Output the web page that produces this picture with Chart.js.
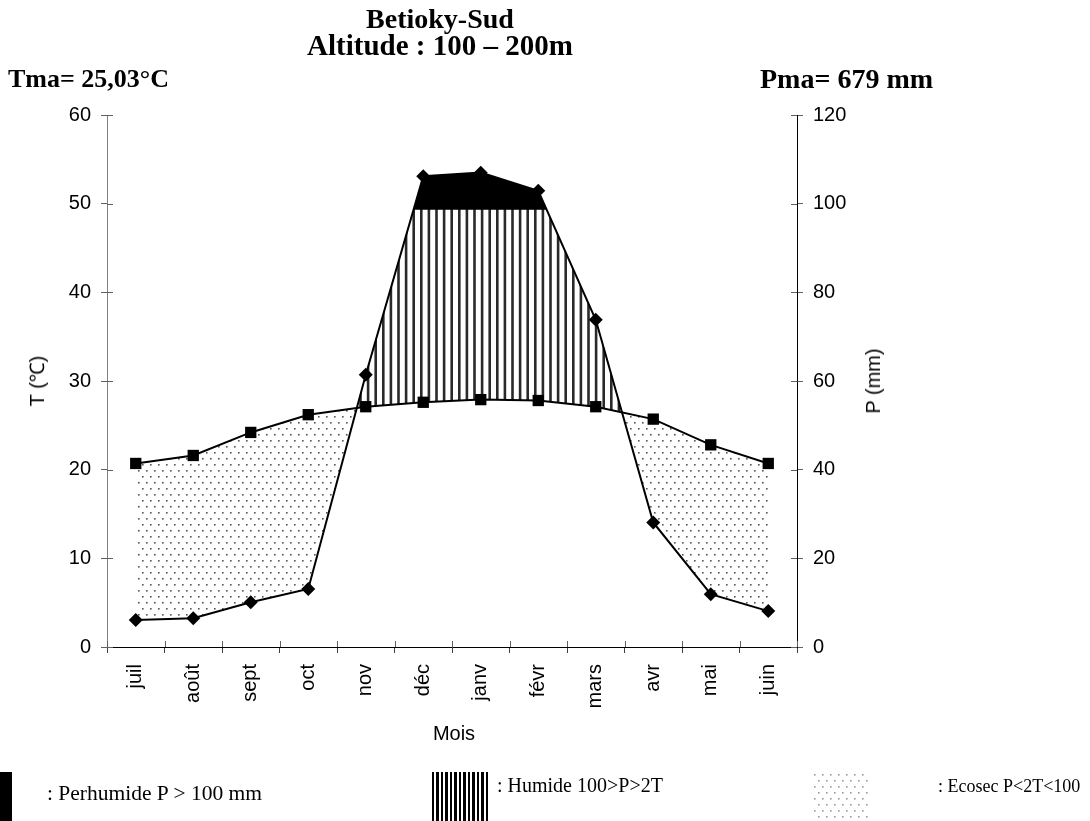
<!DOCTYPE html>
<html>
<head>
<meta charset="utf-8">
<script src="https://cdn.jsdelivr.net/npm/chart.js@4"></script>
<style>
  html, body { margin: 0; padding: 0; background: #fff; }
  #wrap { position: relative; width: 1090px; height: 821px; overflow: hidden; }
  #wrap canvas { position: absolute; left: 0; top: 0; }
  .t { position: absolute; white-space: nowrap; color: #000; }
  .serif { font-family: "Liberation Serif", "Times New Roman", serif; }
  .bold { font-weight: bold; font-size: 28px; line-height: 28px; }
  .sans { font-family: "Liberation Sans", Arial, sans-serif; font-size: 20px; line-height: 20px; }
  .leg { font-size: 20px; line-height: 20px; }
  .box { position: absolute; top: 772px; height: 49px; }
</style>
</head>
<body>
<div id="wrap">
  <canvas id="chart" width="1090" height="821"></canvas>

  <div class="t serif bold" style="left:440px; top:5px; transform:translateX(-50%)">Betioky-Sud</div>
  <div class="t serif bold" style="left:440px; top:31px; transform:translateX(-50%); font-size:29px">Altitude : 100 – 200m</div>
  <div class="t serif bold" style="left:8px; top:65px; font-size:26px">Tma= 25,03°C</div>
  <div class="t serif bold" style="left:760px; top:65px">Pma= 679 mm</div>

  <div class="t sans" style="left:37px; top:381px; transform:translate(-50%,-50%) rotate(-90deg)">T (℃)</div>
  <div class="t sans" style="left:873px; top:381px; transform:translate(-50%,-50%) rotate(-90deg)">P (mm)</div>
  <div class="t sans" style="left:454px; top:723px; transform:translateX(-50%)">Mois</div>

  <div class="box" style="left:0; width:12px; background:#000"></div>
  <div class="t serif leg" style="left:47px; top:783px; font-size:21.5px">: Perhumide P &gt; 100 mm</div>
  <div class="box" style="left:432px; width:58px; background:repeating-linear-gradient(90deg,#000 0 2.5px,#fff 2.5px 4.5px)"></div>
  <div class="t serif leg" style="left:497px; top:775px">: Humide 100&gt;P&gt;2T</div>
  <div class="box" id="dotbox" style="left:812px; width:58px"></div>
  <div class="t serif leg" style="left:938px; top:776px; font-size:18px">: Ecosec P&lt;2T&lt;100</div>
</div>
<script>
const months = ["juil", "août", "sept", "oct", "nov", "déc", "janv", "févr", "mars", "avr", "mai", "juin"];
const temperature = [20.7, 21.6, 24.2, 26.2, 27.1, 27.6, 27.9, 27.8, 27.1, 25.7, 22.8, 20.7];
const precipitation = [6.1, 6.5, 10.1, 13.1, 61.4, 106.2, 107.0, 102.9, 73.8, 28.1, 11.9, 8.1];
// upper edge of the striped zone, as drawn in the source (just under 100 mm)
const perhumidLimit = [98.6, 98.6, 98.6, 98.6, 98.6, 98.6, 98.6, 98.6, 98.6, 98.6, 98.6, 98.6];
const tTicks = [0, 10, 20, 30, 40, 50, 60];
const pTicks = [0, 20, 40, 60, 80, 100, 120];

function stripePattern() {
  const c = document.createElement("canvas");
  c.width = 38; c.height = 4;
  const g = c.getContext("2d");
  g.fillStyle = "#fff";
  g.fillRect(0, 0, 38, 4);
  g.fillStyle = "#2a2a2a";
  for (let i = 0; i < 5; i++) g.fillRect(i * 7.6 + 2, 0, 2.6, 4);
  return g.createPattern(c, "repeat");
}

function dotTile(color) {
  const c = document.createElement("canvas");
  c.width = 8; c.height = 12;
  const g = c.getContext("2d");
  g.fillStyle = "#fff";
  g.fillRect(0, 0, 8, 12);
  g.fillStyle = color;
  g.fillRect(2, 2, 1.6, 1.6);
  g.fillRect(6, 8, 1.6, 1.6);
  return c;
}

document.getElementById("dotbox").style.background =
  "url(" + dotTile("#9a9a9a").toDataURL() + ")";

const stripes = stripePattern();
const dots = document.createElement("canvas").getContext("2d")
  .createPattern(dotTile("#555"), "repeat");

const tickFont = { family: "'Liberation Sans', Arial, sans-serif", size: 20 };

// inner half of the tick marks (Excel style ticks cross the axis line)
const crossTicks = {
  id: "crossTicks",
  afterDraw(chart) {
    const { ctx, chartArea: a, scales } = chart;
    ctx.save();
    ctx.lineWidth = 1;
    ctx.strokeStyle = "#606060";
    ctx.beginPath();
    scales.y.ticks.forEach((t, i) => {
      const y = Math.round(scales.y.getPixelForTick(i)) + 0.5;
      ctx.moveTo(a.left, y); ctx.lineTo(a.left + 6, y);
    });
    scales.y1.ticks.forEach((t, i) => {
      const y = Math.round(scales.y1.getPixelForTick(i)) + 0.5;
      ctx.moveTo(a.right - 6, y); ctx.lineTo(a.right, y);
    });
    for (let i = 0; i <= months.length; i++) {
      const x = Math.round(scales.x.getPixelForValue(i - 0.5)) + 0.5;
      ctx.moveTo(x, a.bottom - 6); ctx.lineTo(x, a.bottom);
    }
    ctx.stroke();
    ctx.restore();
  },
};

const hidden = { borderWidth: 0, borderColor: "rgba(0,0,0,0)", pointRadius: 0, tension: 0 };

new Chart(document.getElementById("chart"), {
  type: "line",
  plugins: [crossTicks],
  data: {
    labels: months,
    datasets: [
      {
        label: "T",
        data: temperature,
        yAxisID: "y",
        borderColor: "#000",
        borderWidth: 2,
        pointStyle: "rect",
        pointRadius: 8,
        pointBackgroundColor: "#000",
        pointBorderWidth: 0,
        tension: 0,
        fill: false,
        order: 1,
      },
      {
        label: "P",
        data: precipitation,
        yAxisID: "y1",
        borderColor: "#000",
        borderWidth: 2,
        pointStyle: "rectRot",
        pointRadius: 7,
        pointBackgroundColor: "#000",
        pointBorderWidth: 0,
        tension: 0,
        fill: false,
        order: 0,
      },
      {
        // humide (stripes) where P > 2T, ecosec (dots) where P < 2T
        label: "zones",
        data: precipitation,
        yAxisID: "y1",
        ...hidden,
        fill: { target: 0, above: stripes, below: dots },
        order: 10,
      },
      {
        // perhumide (black) where P exceeds the limit
        label: "limit",
        data: perhumidLimit,
        yAxisID: "y1",
        ...hidden,
        fill: { target: 1, above: "rgba(0,0,0,0)", below: "#000" },
        order: 9,
      },
    ],
  },
  options: {
    responsive: false,
    animation: false,
    events: [],
    layout: { padding: { left: 47, right: 233, top: 115, bottom: 114 } },
    plugins: { legend: { display: false }, tooltip: { enabled: false } },
    scales: {
      x: {
        offset: true,
        afterFit: s => { s.height = 60; },
        border: { color: "#000", width: 1 },
        grid: { drawOnChartArea: false, color: "#404040", tickLength: 6, offset: true },
        ticks: { color: "#000", font: tickFont, maxRotation: 90, minRotation: 90, padding: 11 },
      },
      y: {
        position: "left",
        min: 0, max: 60,
        afterFit: s => { s.width = 60; },
        afterBuildTicks: s => { s.ticks = tTicks.map(v => ({ value: v })); },
        border: { color: "#808080", width: 1 },
        grid: { drawOnChartArea: false, color: "#606060", tickLength: 6 },
        ticks: { color: "#000", font: tickFont, padding: 10 },
      },
      y1: {
        position: "right",
        min: 0, max: 120,
        afterFit: s => { s.width = 60; },
        afterBuildTicks: s => { s.ticks = pTicks.map(v => ({ value: v })); },
        border: { color: "#000", width: 1 },
        grid: { drawOnChartArea: false, color: "#606060", tickLength: 6 },
        ticks: { color: "#000", font: tickFont, padding: 10 },
      },
    },
  },
});
</script>
</body>
</html>
